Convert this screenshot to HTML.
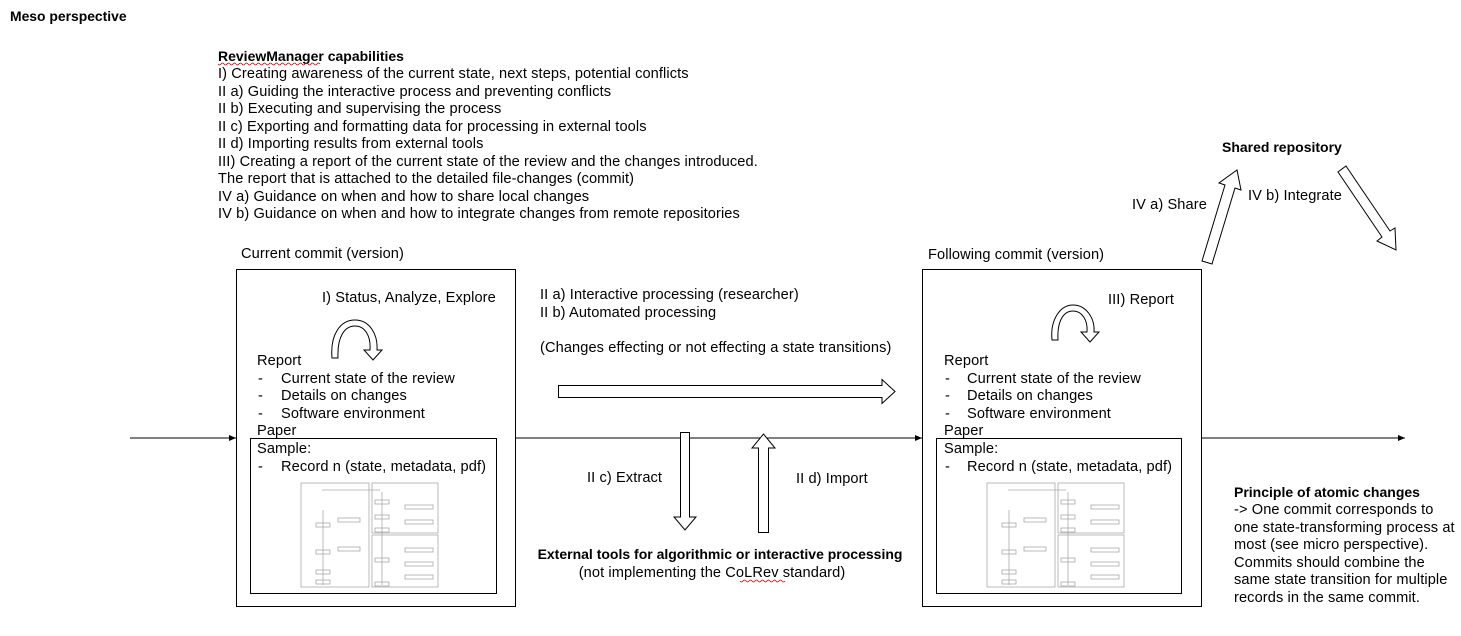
<!DOCTYPE html>
<html><head><meta charset="utf-8"><style>
html,body{margin:0;padding:0;background:#fff;}
svg{display:block;font-family:"Liberation Sans",Arial,sans-serif;font-size:14.6px;letter-spacing:0.1px;fill:#000;}
.b{font-weight:bold;font-size:14px;letter-spacing:0;}
</style></head><body>
<svg width="1461" height="636" viewBox="0 0 1461 636" xmlns="http://www.w3.org/2000/svg">
<defs><marker id="ah" markerWidth="8" markerHeight="8" refX="7" refY="3" orient="auto"><path d="M0,0 L7,3 L0,6 Z" fill="#000"/></marker></defs>
<text x="10" y="21" class="b" style="font-size:13.9px">Meso perspective</text>
<text x="218" y="61" class="b">ReviewManager capabilities</text>
<path d="M218,64 q1.5,2 3,0 t3,0 t3,0 t3,0 t3,0 t3,0 t3,0 t3,0 t3,0 t3,0 t3,0 t3,0 t3,0 t3,0 t3,0 t3,0 t3,0 t3,0 t3,0 t3,0 t3,0 t3,0 t3,0 t3,0 t3,0 t3,0 t3,0 t3,0 t3,0 t3,0 t3,0 t3,0 t3,0 t3,0" stroke="#c00" fill="none" stroke-width="0.7"/>
<g>
<text x="218" y="78">I) Creating awareness of the current state, next steps, potential conflicts</text>
<text x="218" y="96">II a) Guiding the interactive process and preventing conflicts</text>
<text x="218" y="113">II b) Executing and supervising the process</text>
<text x="218" y="131">II c) Exporting and formatting data for processing in external tools</text>
<text x="218" y="148">II d) Importing results from external tools</text>
<text x="218" y="166">III) Creating a report of the current state of the review and the changes introduced.</text>
<text x="218" y="183">The report that is attached to the detailed file-changes (commit)</text>
<text x="218" y="201">IV a) Guidance on when and how to share local changes</text>
<text x="218" y="218">IV b) Guidance on when and how to integrate changes from remote repositories</text>
</g>

<line x1="130" y1="438" x2="236" y2="438" stroke="#000" marker-end="url(#ah)"/>
<line x1="515" y1="438" x2="922" y2="438" stroke="#000" marker-end="url(#ah)"/>
<line x1="1201" y1="438" x2="1405" y2="438" stroke="#000" marker-end="url(#ah)"/>

<text x="241" y="258">Current commit (version)</text>
<rect x="236.5" y="269.5" width="279" height="337" fill="none" stroke="#000"/>
<text x="322" y="302">I) Status, Analyze, Explore</text>
<path d="M332,358 C330,335 340,320 355,320 C370,320 378,335 377,350 L382,350 L373,360 L364,350 L370,350 C371,336 365,326 355,326 C345,326 337,336 338,358 Z" fill="#fff" stroke="#000"/>
<text x="257" y="365">Report</text>
<text x="258" y="383">-</text><text x="281" y="383">Current state of the review</text>
<text x="258" y="400">-</text><text x="281" y="400">Details on changes</text>
<text x="258" y="418">-</text><text x="281" y="418">Software environment</text>
<text x="257" y="435">Paper</text>
<rect x="250.5" y="438.5" width="246" height="155" fill="#fff" stroke="#000"/>
<text x="257" y="453">Sample:</text>
<text x="258" y="471">-</text><text x="281" y="471">Record n (state, metadata, pdf)</text>
<g id="thumb" fill="none" stroke="#aaa" stroke-width="0.8">
<rect x="301" y="483" width="68" height="104"/>
<rect x="372" y="483" width="66" height="50"/>
<rect x="372" y="535" width="66" height="52"/>
<rect x="375" y="500" width="14" height="4"/><rect x="375" y="515" width="14" height="4"/><rect x="375" y="528" width="14" height="4"/>
<rect x="405" y="505" width="28" height="4"/><rect x="405" y="520" width="28" height="4"/>
<rect x="316" y="523" width="14" height="4"/><rect x="338" y="518" width="22" height="4"/>
<rect x="316" y="550" width="14" height="4"/><rect x="338" y="547" width="22" height="4"/>
<rect x="316" y="570" width="14" height="4"/><rect x="316" y="580" width="14" height="4"/>
<rect x="405" y="548" width="28" height="4"/><rect x="405" y="562" width="28" height="4"/><rect x="405" y="575" width="28" height="4"/>
<rect x="375" y="558" width="14" height="4"/><rect x="375" y="582" width="14" height="4"/>
<line x1="322" y1="490" x2="380" y2="490"/><line x1="323" y1="510" x2="323" y2="585"/><line x1="382" y1="492" x2="382" y2="585"/>
</g>

<text x="540" y="299">II a) Interactive processing (researcher)</text>
<text x="540" y="317">II b) Automated processing</text>
<text x="540" y="352">(Changes effecting or not effecting a state transitions)</text>
<path d="M558.5,385.5 L882,385.5 L882,379.5 L895,391.5 L882,403.5 L882,397.5 L558.5,397.5 Z" fill="#fff" stroke="#000"/>
<path d="M680.5,432.5 L689.5,432.5 L689.5,517 L696,517 L685,530 L674,517 L680.5,517 Z" fill="#fff" stroke="#000"/>
<path d="M758.5,532.5 L768.5,532.5 L768.5,448 L775,448 L763.5,434 L752,448 L758.5,448 Z" fill="#fff" stroke="#000"/>
<text x="587" y="482">II c) Extract</text>
<text x="796" y="483">II d) Import</text>
<text x="720" y="559" class="b" text-anchor="middle">External tools for algorithmic or interactive processing</text>
<text x="712" y="577" text-anchor="middle">(not implementing the CoLRev standard)</text>
<path d="M740,581 q1.5,2 3,0 t3,0 t3,0 t3,0 t3,0 t3,0 t3,0 t3,0 t3,0 t3,0 t3,0 t3,0 t3,0 t3,0 t3,0" stroke="#c00" fill="none" stroke-width="0.7"/>

<text x="928" y="259">Following commit (version)</text>
<rect x="922.5" y="269.5" width="279" height="337" fill="none" stroke="#000"/>
<text x="1108" y="304">III) Report</text>
<path d="M1052,340 C1050,320 1060,305 1073,305 C1086,305 1095,318 1094,332 L1099,332 L1090,342 L1081,332 L1087,332 C1088,320 1082,311 1073,311 C1063,311 1057,322 1058,340 Z" fill="#fff" stroke="#000"/>
<text x="944" y="365">Report</text>
<text x="945" y="383">-</text><text x="967" y="383">Current state of the review</text>
<text x="945" y="400">-</text><text x="967" y="400">Details on changes</text>
<text x="945" y="418">-</text><text x="967" y="418">Software environment</text>
<text x="944" y="435">Paper</text>
<rect x="936.5" y="438.5" width="245" height="155" fill="#fff" stroke="#000"/>
<text x="944" y="453">Sample:</text>
<text x="945" y="471">-</text><text x="967" y="471">Record n (state, metadata, pdf)</text>
<use href="#thumb" transform="translate(686,0)"/>

<text x="1222" y="152" class="b">Shared repository</text>
<text x="1132" y="209">IV a) Share</text>
<text x="1248" y="200">IV b) Integrate</text>
<path d="M1202,261 L1225,185 L1219,183 L1237,170 L1241,190 L1235,188 L1212,264 Z" fill="#fff" stroke="#000"/>
<path d="M1346,166 L1390,231 L1395,228 L1396,250 L1377,241 L1382,237 L1338,172 Z" fill="#fff" stroke="#000"/>

<g>
<text x="1234" y="497" class="b">Principle of atomic changes</text>
<text x="1234" y="514">-&gt; One commit corresponds to</text>
<text x="1234" y="532">one state-transforming process at</text>
<text x="1234" y="549">most (see micro perspective).</text>
<text x="1234" y="567">Commits should combine the</text>
<text x="1234" y="584">same state transition for multiple</text>
<text x="1234" y="602">records in the same commit.</text>
</g>
</svg>
</body></html>
